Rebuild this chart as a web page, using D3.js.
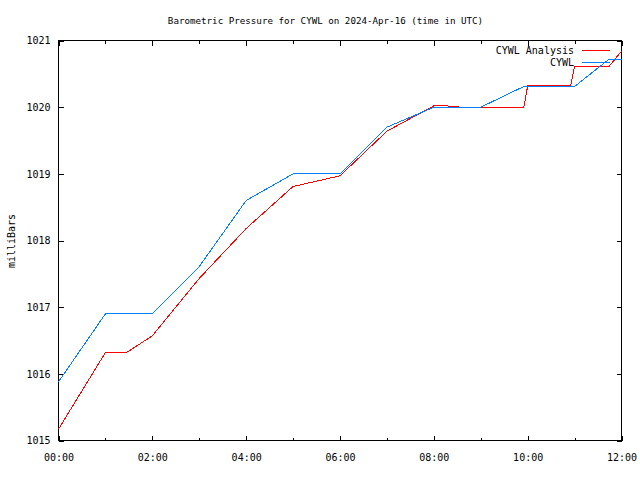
<!DOCTYPE html>
<html>
<head>
<meta charset="utf-8">
<script src="https://cdn.jsdelivr.net/npm/d3@7"></script>
<style>
  html, body { margin: 0; padding: 0; background: #fff; }
  svg { display: block; }
  text { font-family: "DejaVu Sans Mono", "Liberation Mono", monospace; fill: #000; }
</style>
</head>
<body>
<svg id="chart" width="640" height="480"></svg>
<script>
// ---- data ----
const titleText = "Barometric Pressure for CYWL on 2024-Apr-16 (time in UTC)";
const yLabel = "milliBars";
const seriesNames = ["CYWL Analysis", "CYWL"];

const analysisTimes = ["00:00","01:00","01:27","02:00","03:00","04:00","05:00","06:00","07:00","08:00","08:15","08:45","09:55","10:00","10:55","11:00","11:44","12:00"];
const analysisValues = [1015.17,1016.32,1016.32,1016.57,1017.43,1018.18,1018.81,1018.97,1019.64,1020.02,1020.02,1019.99,1019.99,1020.32,1020.32,1020.61,1020.61,1020.84];

const obsTimes = ["00:00","01:00","02:00","03:00","04:00","05:00","06:00","07:00","08:00","09:00","09:55","11:00","11:43","12:00"];
const obsValues = [1015.88,1016.90,1016.90,1017.61,1018.60,1019.00,1019.00,1019.70,1020.00,1020.00,1020.31,1020.31,1020.71,1020.71];

const yTicks = [1015,1016,1017,1018,1019,1020,1021];
const xDomain = ["00:00","12:00"];

// ---- layout ----
const W = 640, H = 480;
const m = {left: 58, top: 40, right: 19, bottom: 40};
const iw = W - m.left - m.right, ih = H - m.top - m.bottom;

const parse = d3.utcParse("%Y-%m-%d %H:%M");
const toDate = t => parse("2024-04-16 " + t);

const x = d3.scaleUtc().domain(xDomain.map(toDate)).range([m.left, m.left + iw]);
const y = d3.scaleLinear().domain([1015, 1021]).range([m.top + ih, m.top]);

const svg = d3.select("#chart");
const colors = ["#ff0000", "#0080ff"];

// frame
svg.append("rect")
  .attr("x", m.left + 0.5).attr("y", m.top + 0.5)
  .attr("width", iw).attr("height", ih)
  .attr("fill", "none").attr("stroke", "#000").attr("stroke-width", 1)
  .attr("shape-rendering", "crispEdges");

// x axis (bottom): major every 2h labelled, minor every hour
const majorX = x.ticks(d3.utcHour.every(2));
const minorX = x.ticks(d3.utcHour.every(1)).filter(d => d.getUTCHours() % 2 === 1);
const fmt = d3.utcFormat("%H:%M");

const xBottom = svg.append("g").attr("transform", `translate(0.5,${m.top + ih + 0.5})`);
xBottom.call(d3.axisBottom(x).tickValues(majorX).tickFormat(fmt).tickSizeInner(-5).tickSizeOuter(0).tickPadding(13));
xBottom.select(".domain").remove();
xBottom.selectAll("text").attr("font-size", "10px").attr("font-family", "DejaVu Sans Mono");
xBottom.selectAll("line").attr("shape-rendering", "crispEdges");

const xBottomMinor = svg.append("g").attr("transform", `translate(0.5,${m.top + ih + 0.5})`);
xBottomMinor.call(d3.axisBottom(x).tickValues(minorX).tickFormat("").tickSizeInner(-3).tickSizeOuter(0));
xBottomMinor.select(".domain").remove();
xBottomMinor.selectAll("line").attr("shape-rendering", "crispEdges");

// x axis (top) mirrored ticks
const xTop = svg.append("g").attr("transform", `translate(0.5,${m.top + 0.5})`);
xTop.call(d3.axisTop(x).tickValues(majorX).tickFormat("").tickSizeInner(-5).tickSizeOuter(0));
xTop.select(".domain").remove();
xTop.selectAll("line").attr("shape-rendering", "crispEdges");
const xTopMinor = svg.append("g").attr("transform", `translate(0.5,${m.top + 0.5})`);
xTopMinor.call(d3.axisTop(x).tickValues(minorX).tickFormat("").tickSizeInner(-3).tickSizeOuter(0));
xTopMinor.select(".domain").remove();
xTopMinor.selectAll("line").attr("shape-rendering", "crispEdges");

// y axis left
const yLeft = svg.append("g").attr("transform", `translate(${m.left + 0.5},0.5)`);
yLeft.call(d3.axisLeft(y).tickValues(yTicks).tickFormat(d3.format("d")).tickSizeInner(-5).tickSizeOuter(0).tickPadding(8));
yLeft.select(".domain").remove();
yLeft.selectAll("text").attr("font-size", "10px").attr("font-family", "DejaVu Sans Mono");
yLeft.selectAll("line").attr("shape-rendering", "crispEdges");

// y axis right mirrored
const yRight = svg.append("g").attr("transform", `translate(${m.left + iw + 0.5},0.5)`);
yRight.call(d3.axisRight(y).tickValues(yTicks).tickFormat("").tickSizeInner(-5).tickSizeOuter(0));
yRight.select(".domain").remove();
yRight.selectAll("line").attr("shape-rendering", "crispEdges");

// title
svg.append("text")
  .attr("x", 325.5).attr("y", 23.5)
  .attr("text-anchor", "middle")
  .attr("font-size", "9.2px")
  .text(titleText);

// y label
svg.append("text")
  .attr("transform", "translate(15,241) rotate(-90)")
  .attr("text-anchor", "middle")
  .attr("font-size", "10px")
  .text(yLabel);

// lines
const line = d3.line().x(d => x(d.t) + 0.5).y(d => y(d.v) + 0.5);
const series = [
  analysisTimes.map((t, i) => ({t: toDate(t), v: analysisValues[i]})),
  obsTimes.map((t, i) => ({t: toDate(t), v: obsValues[i]}))
];
const plot = svg.append("g");
series.forEach((s, i) => {
  plot.append("path")
    .datum(s)
    .attr("d", line)
    .attr("fill", "none")
    .attr("stroke", colors[i])
    .attr("stroke-width", 1)
    .attr("shape-rendering", "crispEdges");
});

// legend
const legend = svg.append("g");
seriesNames.forEach((name, i) => {
  const ly = 50 + i * 12;
  legend.append("text")
    .attr("x", 574).attr("y", ly + 4)
    .attr("text-anchor", "end")
    .attr("font-size", "10px")
    .text(name);
  legend.append("line")
    .attr("x1", 582).attr("x2", 610)
    .attr("y1", ly + 0.5).attr("y2", ly + 0.5)
    .attr("stroke", colors[i]).attr("stroke-width", 1)
    .attr("shape-rendering", "crispEdges");
});
</script>
</body>
</html>
